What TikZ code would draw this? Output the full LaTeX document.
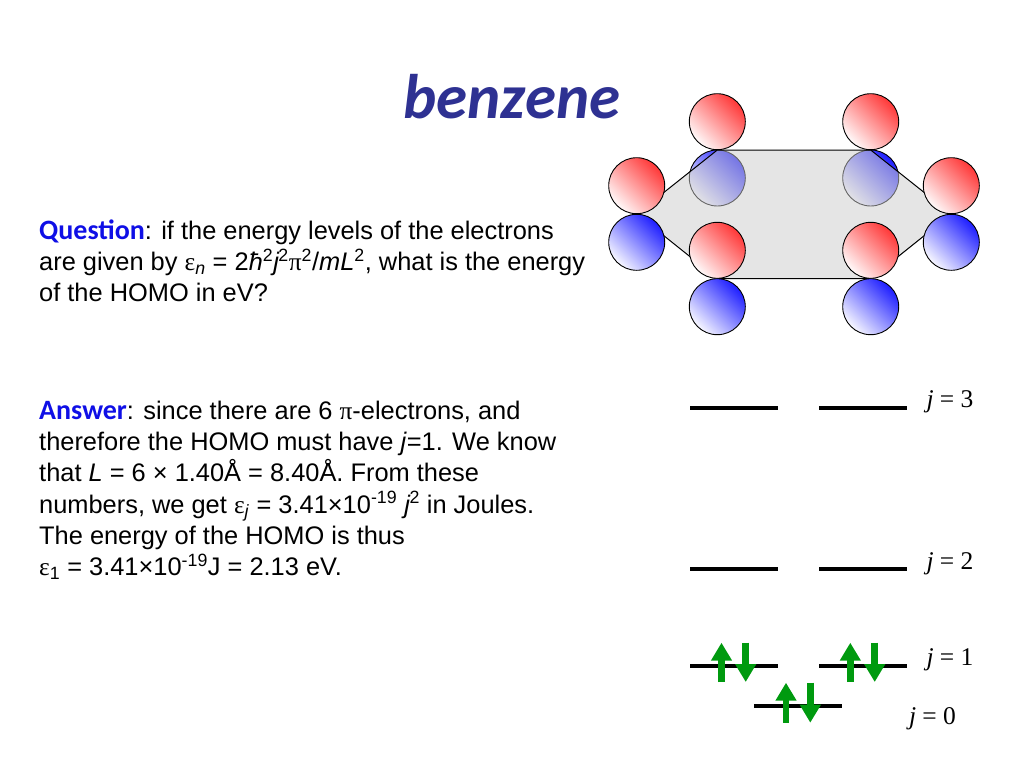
\documentclass[tikz,border=0pt]{standalone}
\usepackage{fontspec}
\setmainfont{Liberation Sans}
\newfontfamily\titlefont{Carlito}
\newfontfamily\symfont{Liberation Serif}
\usetikzlibrary{arrows.meta}
\definecolor{titleblue}{HTML}{2E3192}
\definecolor{headblue}{HTML}{0F0FE6}
\definecolor{spingreen}{HTML}{009A0F}
\def\eps{{\symfont ε}}
\def\pisym{{\symfont π}}
\def\headfont{\fontsize{28}{31.3}\selectfont\titlefont\bfseries}
\tikzset{
	lobe/.style={circle, draw=black, line width=0.9pt, minimum size=56pt, inner sep=0pt},
	redlobe/.style={lobe, top color=red!78, bottom color=red!2, shading angle=-45},
	bluelobe/.style={lobe, top color=blue!88, bottom color=blue!3, shading angle=-45},
	level/.style={line width=4.4pt},
	spinup/.style={line width=6.6pt, spingreen, -{Triangle[width=20pt,length=18pt]}},
	levellabel/.style={inner sep=0pt, font=\fontsize{25.5}{30}\selectfont\symfont},
	bodytext/.style={anchor=north west, inner sep=0pt, align=left, font=\fontsize{25.4}{31.3}\selectfont}
}

\begin{document}
\begin{tikzpicture}[x=1pt, y=-1pt]
			%%%%% START %%%%%
			
			\useasboundingbox (0, 0) rectangle (1024, 768);
			
			\node[inner sep=0pt, text=titleblue, font=\fontsize{63}{70}\selectfont\titlefont\bfseries\itshape] (title) at (512, 97) {benzene};
			
			\node[bodytext] (question) at (39, 219.5) {\textcolor{headblue}{\headfont Question}: if the energy levels of the electrons\\
				are given by \eps\textsubscript{\textit{n}} = 2\textit{ħ}\textsuperscript{2}\textit{j}\kern-1pt\textsuperscript{2}\pisym\textsuperscript{2}/\textit{mL}\textsuperscript{2}, what is the energy\\
				of the HOMO in eV?};
			
			\node[bodytext] (answer) at (39, 400.5) {\textcolor{headblue}{\headfont Answer}: since there are 6 \pisym-electrons, and\\
				therefore the HOMO must have \textit{j}=1. We know\\
				that \textit{L} = 6 × 1.40Å = 8.40Å. From these\\
				numbers, we get \eps\textsubscript{\textit{j}} = 3.41×10\textsuperscript{-19} \textit{j}\kern-1pt\textsuperscript{2} in Joules.\\
				The energy of the HOMO is thus\\
				\eps\textsubscript{1} = 3.41×10\textsuperscript{-19}J = 2.13 eV.};
			
			% orbitals
			\node[bluelobe] (topleftblue) at (717.3, 178) {};
			\node[bluelobe] (toprightblue) at (870.7, 178) {};
			
			\coordinate (ringa) at (717.3, 150);
			\coordinate (ringb) at (870.7, 150);
			\coordinate (ringc) at (951.3, 214);
			\coordinate (ringd) at (870.7, 278.5);
			\coordinate (ringe) at (717.3, 278.5);
			\coordinate (ringf) at (636.7, 214);
			\draw[line width=1pt, fill=black!20, fill opacity=0.5] (ringa) -- (ringb) -- (ringc) -- (ringd) -- (ringe) -- (ringf) -- cycle;
			
			\node[redlobe] (topleftred) at (717.3, 121.7) {};
			\node[redlobe] (toprightred) at (870.7, 121.7) {};
			\node[redlobe] (leftred) at (636.7, 185.7) {};
			\node[bluelobe] (leftblue) at (636.7, 242.3) {};
			\node[redlobe] (rightred) at (951.3, 185.7) {};
			\node[bluelobe] (rightblue) at (951.3, 242.3) {};
			\node[redlobe] (lowleftred) at (717.3, 250.3) {};
			\node[bluelobe] (lowleftblue) at (717.3, 306.7) {};
			\node[redlobe] (lowrightred) at (870.7, 250.3) {};
			\node[bluelobe] (lowrightblue) at (870.7, 306.7) {};
			
			% levels
			\coordinate (threea) at (690, 408);
			\coordinate (threeb) at (778, 408);
			\coordinate (threec) at (819, 408);
			\coordinate (threed) at (907, 408);
			\draw[level] (threea) -- (threeb);
			\draw[level] (threec) -- (threed);
			\node[levellabel] (jthree) at (950, 401.5) {\textit{j} = 3};
			
			\coordinate (twoa) at (690, 569);
			\coordinate (twob) at (778, 569);
			\coordinate (twoc) at (819, 569);
			\coordinate (twod) at (907, 569);
			\draw[level] (twoa) -- (twob);
			\draw[level] (twoc) -- (twod);
			\node[levellabel] (jtwo) at (950, 563.5) {\textit{j} = 2};
			
			\coordinate (onea) at (690, 666);
			\coordinate (oneb) at (778, 666);
			\coordinate (onec) at (819, 666);
			\coordinate (oned) at (907, 666);
			\draw[level] (onea) -- (oneb);
			\draw[level] (onec) -- (oned);
			\node[levellabel] (jone) at (950, 659.5) {\textit{j} = 1};
			
			\coordinate (zeroa) at (754, 706);
			\coordinate (zerob) at (842, 706);
			\draw[level] (zeroa) -- (zerob);
			\node[levellabel] (jzero) at (932.5, 718.5) {\textit{j} = 0};
			
			% electrons
			\coordinate (upa) at (721.5, 682);
			\coordinate (upatip) at (721.5, 642.7);
			\coordinate (downa) at (745.7, 642.7);
			\coordinate (downatip) at (745.7, 682);
			\coordinate (upb) at (850.3, 682);
			\coordinate (upbtip) at (850.3, 642.7);
			\coordinate (downb) at (874.7, 642.7);
			\coordinate (downbtip) at (874.7, 682);
			\coordinate (upc) at (786, 722.7);
			\coordinate (upctip) at (786, 682.7);
			\coordinate (downc) at (810.3, 682.7);
			\coordinate (downctip) at (810.3, 722.7);
			\draw[spinup] (upa) -- (upatip);
			\draw[spinup] (downa) -- (downatip);
			\draw[spinup] (upb) -- (upbtip);
			\draw[spinup] (downb) -- (downbtip);
			\draw[spinup] (upc) -- (upctip);
			\draw[spinup] (downc) -- (downctip);
			
			%%%%% END %%%%%
		\end{tikzpicture}
\end{document}
